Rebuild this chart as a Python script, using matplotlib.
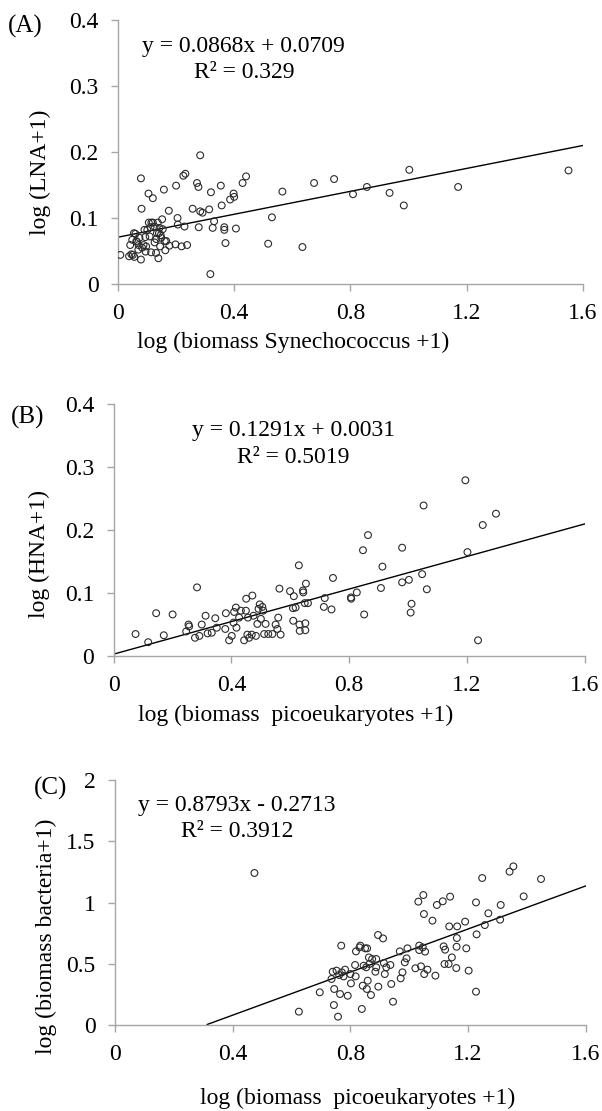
import matplotlib
matplotlib.use("Agg")
import matplotlib.pyplot as plt
import numpy as np

plt.rcParams['font.family'] = ['Liberation Serif', 'DejaVu Serif']

# (A) Synechococcus vs LNA
syn_x = [0.008, 0.038, 0.046, 0.051, 0.042, 0.055, 0.049, 0.063, 0.071, 0.079,
         0.079, 0.081, 0.074, 0.083, 0.091, 0.097, 0.105, 0.106, 0.109, 0.114,
         0.120, 0.120, 0.126, 0.126, 0.131, 0.137, 0.141, 0.139, 0.143, 0.145,
         0.149, 0.152, 0.154, 0.158, 0.163, 0.166, 0.175, 0.177, 0.198, 0.200,
         0.205, 0.206, 0.219, 0.225, 0.232, 0.229, 0.238, 0.257, 0.272, 0.277,
         0.278, 0.283, 0.283, 0.291, 0.314, 0.318, 0.320, 0.326, 0.331, 0.354,
         0.357, 0.366, 0.366, 0.370, 0.386, 0.398, 0.400, 0.406, 0.429, 0.441,
         0.517, 0.530, 0.566, 0.635, 0.675, 0.744, 0.809, 0.857, 0.935, 0.984,
         1.003, 1.171, 1.551,
         0.065, 0.088, 0.101, 0.115, 0.134, 0.147, 0.161, 0.060, 0.070, 0.094,
         0.112, 0.132, 0.095, 0.056]
lna_y = [0.044, 0.042, 0.045, 0.044, 0.059, 0.077, 0.067, 0.065, 0.059, 0.037,
         0.160, 0.114, 0.070, 0.055, 0.082, 0.057, 0.137, 0.093, 0.072, 0.048,
         0.130, 0.093, 0.087, 0.063, 0.047, 0.093, 0.077, 0.039, 0.085, 0.057,
         0.070, 0.098, 0.083, 0.143, 0.051, 0.065, 0.111, 0.058, 0.060, 0.149,
         0.100, 0.090, 0.057, 0.164, 0.167, 0.087, 0.059, 0.114, 0.153, 0.147,
         0.086, 0.195, 0.110, 0.108, 0.113, 0.015, 0.139, 0.085, 0.095, 0.149,
         0.119, 0.086, 0.082, 0.062, 0.128, 0.137, 0.132, 0.084, 0.153, 0.163,
         0.061, 0.101, 0.140, 0.056, 0.153, 0.159, 0.136, 0.147, 0.138, 0.119,
         0.173, 0.147, 0.172,
         0.064, 0.059, 0.082, 0.093, 0.077, 0.074, 0.065, 0.076, 0.052, 0.071,
         0.086, 0.068, 0.049, 0.041]

# (B) picoeukaryotes vs HNA
peuk_b_x = [0.074, 0.117, 0.144, 0.170, 0.200, 0.246, 0.254, 0.256, 0.276, 0.283,
            0.291, 0.299, 0.312, 0.319, 0.333, 0.345, 0.350, 0.379, 0.381, 0.392,
            0.401, 0.407, 0.409, 0.415, 0.417, 0.426, 0.432, 0.443, 0.449, 0.450,
            0.454, 0.456, 0.460, 0.469, 0.471, 0.475, 0.483, 0.488, 0.492, 0.496,
            0.500, 0.505, 0.508, 0.511, 0.516, 0.525, 0.539, 0.550, 0.556, 0.559,
            0.563, 0.567, 0.599, 0.609, 0.610, 0.612, 0.618, 0.629, 0.631, 0.632,
            0.643, 0.644, 0.649, 0.651, 0.653, 0.651, 0.660, 0.714, 0.717, 0.740,
            0.745, 0.806, 0.807, 0.826, 0.847, 0.851, 0.864, 0.908, 0.913, 0.980,
            0.980, 1.003, 1.009, 1.012, 1.048, 1.064, 1.053, 1.195, 1.202, 1.254,
            1.299, 1.238]
hna_y = [0.035, 0.022, 0.068, 0.033, 0.066, 0.039, 0.050, 0.047, 0.029, 0.109,
         0.032, 0.050, 0.064, 0.036, 0.037, 0.060, 0.045, 0.043, 0.068, 0.025,
         0.032, 0.053, 0.070, 0.077, 0.045, 0.061, 0.072, 0.025, 0.072, 0.091,
         0.034, 0.061, 0.029, 0.034, 0.096, 0.064, 0.032, 0.051, 0.075, 0.082,
         0.059, 0.078, 0.072, 0.035, 0.051, 0.035, 0.035, 0.050, 0.043, 0.061,
         0.107, 0.034, 0.103, 0.076, 0.056, 0.095, 0.077, 0.144, 0.050, 0.040,
         0.104, 0.101, 0.084, 0.052, 0.115, 0.041, 0.084, 0.078, 0.092, 0.074,
         0.124, 0.093, 0.091, 0.101, 0.168, 0.066, 0.192, 0.108, 0.142, 0.172,
         0.117, 0.121, 0.069, 0.083, 0.130, 0.106, 0.239, 0.279, 0.165, 0.208,
         0.226, 0.025]

# (C) picoeukaryotes vs bacteria
peuk_c_x = [0.474, 0.625, 0.696, 0.736, 0.740, 0.745, 0.744, 0.758, 0.753, 0.762,
            0.765, 0.769, 0.771, 0.777, 0.782, 0.791, 0.800, 0.802, 0.816, 0.818,
            0.819, 0.831, 0.834, 0.839, 0.842, 0.845, 0.850, 0.854, 0.856, 0.857,
            0.859, 0.863, 0.865, 0.870, 0.874, 0.885, 0.888, 0.888, 0.894, 0.895,
            0.911, 0.914, 0.917, 0.922, 0.936, 0.939, 0.945, 0.968, 0.971, 0.977,
            0.985, 0.991, 0.994, 1.021, 1.031, 1.034, 1.034, 1.040, 1.046, 1.048,
            1.050, 1.051, 1.054, 1.062, 1.079, 1.089, 1.094, 1.114, 1.117, 1.120,
            1.122, 1.134, 1.136, 1.139, 1.145, 1.160, 1.161, 1.162, 1.163, 1.190,
            1.194, 1.202, 1.227, 1.227, 1.229, 1.248, 1.257, 1.269, 1.309, 1.311,
            1.341, 1.354, 1.389, 1.448]
bact_y = [1.241, 0.109, 0.267, 0.376, 0.435, 0.294, 0.163, 0.068, 0.444, 0.408,
          0.253, 0.648, 0.430, 0.397, 0.452, 0.239, 0.416, 0.340, 0.490, 0.397,
          0.601, 0.634, 0.648, 0.131, 0.321, 0.484, 0.626, 0.471, 0.294, 0.626,
          0.362, 0.552, 0.498, 0.245, 0.539, 0.435, 0.539, 0.471, 0.735, 0.313,
          0.707, 0.506, 0.416, 0.471, 0.490, 0.335, 0.190, 0.601, 0.381, 0.430,
          0.512, 0.544, 0.626, 0.463, 1.007, 0.648, 0.612, 0.479, 0.634, 1.061,
          0.906, 0.416, 0.599, 0.452, 0.852, 0.403, 0.980, 1.010, 0.642, 0.498,
          0.615, 0.498, 0.805, 1.048, 0.552, 0.465, 0.639, 0.710, 0.805, 0.844,
          0.626, 0.444, 0.272, 1.001, 0.740, 1.200, 0.816, 0.912, 0.860, 0.980,
          1.252, 1.295, 1.050, 1.192]

x_ticks = [0, 0.4, 0.8, 1.2, 1.6]
x_ticklabels = ["0", "0.4", "0.8", "1.2", "1.6"]

panels = [
    dict(rect=[0.196, 0.7444, 0.772, 0.2376], x=syn_x, y=lna_y,
         slope=0.0868, icpt=0.0709, ymax=0.4,
         yticks=[0, 0.1, 0.2, 0.3, 0.4], yticklabels=["0", "0.1", "0.2", "0.3", "0.4"],
         eq="y = 0.0868x + 0.0709", r2="R² = 0.329", eq_pos=(0.433, 0.36), r2_pos=(0.433, 0.32),
         ylabel="log (LNA+1)", ylab_xy=(-0.168, 0.424),
         xlabel="log (biomass Synechococcus +1)", xlab_xy=(0.376, -0.22),
         tag="(A)", tag_pos=(-0.237, 0.975)),
    dict(rect=[0.189, 0.4095, 0.782, 0.2268], x=peuk_b_x, y=hna_y,
         slope=0.1291, icpt=0.0031, ymax=0.4,
         yticks=[0, 0.1, 0.2, 0.3, 0.4], yticklabels=["0", "0.1", "0.2", "0.3", "0.4"],
         eq="y = 0.1291x + 0.0031", r2="R² = 0.5019", eq_pos=(0.61, 0.358), r2_pos=(0.61, 0.315),
         ylabel="log (HNA+1)", ylab_xy=(-0.157, 0.405),
         xlabel="log (biomass  picoeukaryotes +1)", xlab_xy=(0.386, -0.235),
         tag="(B)", tag_pos=(-0.219, 0.948)),
    dict(rect=[0.191, 0.0774, 0.782, 0.2205], x=peuk_c_x, y=bact_y,
         slope=0.8793, icpt=-0.2713, ymax=2.0,
         yticks=[0, 0.5, 1, 1.5, 2], yticklabels=["0", "0.5", "1", "1.5", "2"],
         eq="y = 0.8793x - 0.2713", r2="R² = 0.3912", eq_pos=(0.414, 1.79), r2_pos=(0.414, 1.58),
         ylabel="log (biomass bacteria+1)", ylab_xy=(-0.146, 0.363),
         xlabel="log (biomass  picoeukaryotes +1)", xlab_xy=(0.516, -0.30),
         tag="(C)", tag_pos=(-0.172, 0.967)),
]

fig = plt.figure(figsize=(6.02, 11.11), dpi=100)
axis_grey = "#a6a6a6"
fs = 17

for p in panels:
    ax = fig.add_axes(p["rect"])
    ax.scatter(p["x"], p["y"], s=24, facecolors="none", edgecolors="#2b2b2b", linewidths=0.8, zorder=3)

    # trend line across the x range, clipped at y = 0
    xl = np.linspace(0, 1.6, 200)
    yl = p["slope"] * xl + p["icpt"]
    keep = yl >= 0
    ax.plot(xl[keep], yl[keep], color="black", lw=1.0, zorder=2)

    ax.set_xlim(0, 1.6)
    ax.set_ylim(0, p["ymax"])
    ax.set_xticks(x_ticks)
    ax.set_xticklabels(x_ticklabels)
    ax.set_yticks(p["yticks"])
    ax.set_yticklabels(p["yticklabels"])

    for s in ["top", "right"]:
        ax.spines[s].set_visible(False)
    for s in ["left", "bottom"]:
        ax.spines[s].set_color(axis_grey)
        ax.spines[s].set_linewidth(1.0)
    ax.tick_params(direction="out", length=5, width=1.0, color=axis_grey,
                   labelsize=fs, pad=9)

    ax.text(*p["eq_pos"], p["eq"], fontsize=fs, ha="center", va="center")
    ax.text(*p["r2_pos"], p["r2"], fontsize=fs, ha="center", va="center")

    ax.set_ylabel(p["ylabel"], fontsize=fs, va="center")
    ax.yaxis.set_label_coords(*p["ylab_xy"])
    ax.set_xlabel(p["xlabel"], fontsize=fs, va="center")
    ax.xaxis.set_label_coords(*p["xlab_xy"])

    ax.text(*p["tag_pos"], p["tag"], transform=ax.transAxes, fontsize=18,
            ha="left", va="center")

fig.savefig("out.png", dpi=100)
